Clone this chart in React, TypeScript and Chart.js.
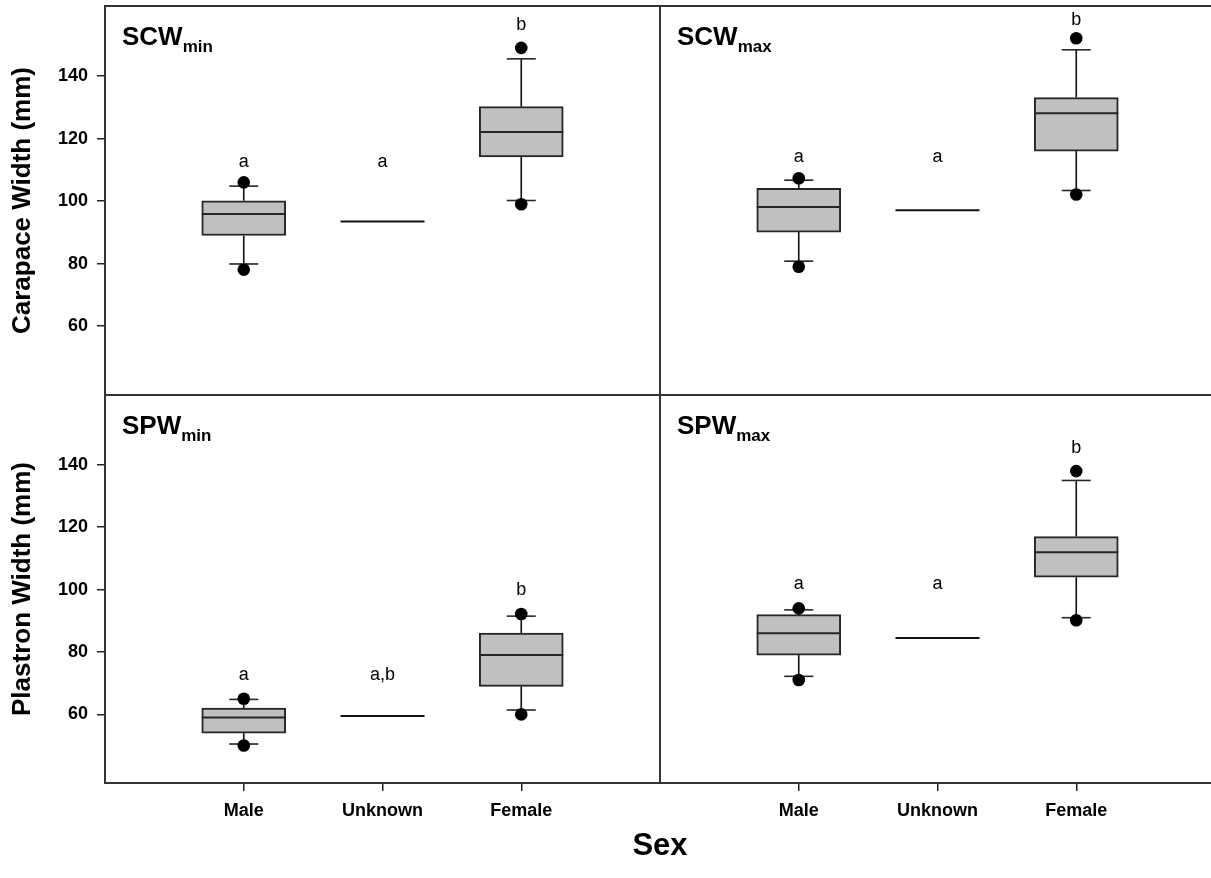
import React, { useEffect, useRef } from 'react';
import { Chart, registerables } from 'chart.js';

Chart.register(...registerables);

const FONT = '"Liberation Sans", Arial, Helvetica, sans-serif';

// ---- Data ----
const categories = ['Male', 'Unknown', 'Female'];
const categoryPositions = [1, 2, 3];
const boxPositions = [1, 3]; // Male, Female have boxes; Unknown is a single value
const unknownPosition = 2;
const yTickValues = [60, 80, 100, 120, 140];
const yMin = 38;
const yMax = 162.4;

// SCW min (Male, Female)
const scwMinQ1 = [89.0, 114.1];
const scwMinMedian = [95.9, 122.1];
const scwMinQ3 = [100.1, 130.2];
const scwMinWhiskerLow = [79.9, 100.2];
const scwMinWhiskerHigh = [104.8, 145.5];
const scwMinOutLow = [78.1, 99.0];
const scwMinOutHigh = [106.0, 149.0];
const scwMinUnknown = 93.5;
const scwMinLetters = ['a', 'a', 'b'];
const scwMinLetterY = [112.6, 112.6, 156.2];

// SCW max
const scwMaxQ1 = [90.1, 116.0];
const scwMaxMedian = [98.1, 128.1];
const scwMaxQ3 = [104.1, 133.1];
const scwMaxWhiskerLow = [80.8, 103.4];
const scwMaxWhiskerHigh = [106.7, 148.4];
const scwMaxOutLow = [79.0, 102.1];
const scwMaxOutHigh = [107.3, 152.1];
const scwMaxUnknown = 97.1;
const scwMaxLetters = ['a', 'a', 'b'];
const scwMaxLetterY = [114.2, 114.2, 157.9];

// SPW min
const spwMinQ1 = [54.0, 69.0];
const spwMinMedian = [59.0, 79.0];
const spwMinQ3 = [62.0, 86.1];
const spwMinWhiskerLow = [50.5, 61.4];
const spwMinWhiskerHigh = [64.8, 91.5];
const spwMinOutLow = [50.0, 60.0];
const spwMinOutHigh = [65.0, 92.2];
const spwMinUnknown = 59.5;
const spwMinLetters = ['a', 'a,b', 'b'];
const spwMinLetterY = [72.5, 72.5, 99.9];

// SPW max
const spwMaxQ1 = [79.0, 104.0];
const spwMaxMedian = [86.0, 112.0];
const spwMaxQ3 = [92.0, 117.0];
const spwMaxWhiskerLow = [72.2, 91.0];
const spwMaxWhiskerHigh = [93.5, 135.0];
const spwMaxOutLow = [71.0, 90.2];
const spwMaxOutHigh = [94.0, 138.0];
const spwMaxUnknown = 84.5;
const spwMaxLetters = ['a', 'a', 'b'];
const spwMaxLetterY = [101.9, 101.9, 145.4];

type Panel = {
  q1: number[]; median: number[]; q3: number[];
  wLo: number[]; wHi: number[]; oLo: number[]; oHi: number[];
  unknown: number; letters: string[]; letterY: number[];
  main: string; sub: string;
  showX: boolean; showY: boolean; yTitle: string; sexTitle: boolean;
  padding: { left: number; right: number; top: number; bottom: number };
};

const CW = 1230;
const CH = 878;

const panels: Panel[] = [
  {
    q1: scwMinQ1, median: scwMinMedian, q3: scwMinQ3, wLo: scwMinWhiskerLow, wHi: scwMinWhiskerHigh,
    oLo: scwMinOutLow, oHi: scwMinOutHigh, unknown: scwMinUnknown, letters: scwMinLetters, letterY: scwMinLetterY,
    main: 'SCW', sub: 'min', showX: false, showY: true, yTitle: 'Carapace Width (mm)', sexTitle: false,
    padding: { left: 0, right: CW - 660, top: 6, bottom: CH - 395 },
  },
  {
    q1: scwMaxQ1, median: scwMaxMedian, q3: scwMaxQ3, wLo: scwMaxWhiskerLow, wHi: scwMaxWhiskerHigh,
    oLo: scwMaxOutLow, oHi: scwMaxOutHigh, unknown: scwMaxUnknown, letters: scwMaxLetters, letterY: scwMaxLetterY,
    main: 'SCW', sub: 'max', showX: false, showY: false, yTitle: '', sexTitle: false,
    padding: { left: 660, right: CW - 1215, top: 6, bottom: CH - 395 },
  },
  {
    q1: spwMinQ1, median: spwMinMedian, q3: spwMinQ3, wLo: spwMinWhiskerLow, wHi: spwMinWhiskerHigh,
    oLo: spwMinOutLow, oHi: spwMinOutHigh, unknown: spwMinUnknown, letters: spwMinLetters, letterY: spwMinLetterY,
    main: 'SPW', sub: 'min', showX: true, showY: true, yTitle: 'Plastron Width (mm)', sexTitle: true,
    padding: { left: 0, right: CW - 660, top: 395, bottom: CH - 783 - 60 },
  },
  {
    q1: spwMaxQ1, median: spwMaxMedian, q3: spwMaxQ3, wLo: spwMaxWhiskerLow, wHi: spwMaxWhiskerHigh,
    oLo: spwMaxOutLow, oHi: spwMaxOutHigh, unknown: spwMaxUnknown, letters: spwMaxLetters, letterY: spwMaxLetterY,
    main: 'SPW', sub: 'max', showX: true, showY: false, yTitle: '', sexTitle: false,
    padding: { left: 660, right: CW - 1215, top: 395, bottom: CH - 783 - 60 },
  },
];

const LINE = '#262626';

const framePlugin = {
  id: 'frame',
  afterDraw(chart: any) {
    const { ctx, chartArea: a } = chart;
    ctx.save();
    ctx.strokeStyle = '#333';
    ctx.lineWidth = 2;
    ctx.strokeRect(a.left, a.top, a.right - a.left, a.bottom - a.top);
    ctx.restore();
  },
};

const annotPlugin = {
  id: 'annot',
  afterDraw(chart: any, _args: any, opts: any) {
    const { ctx, chartArea: a, scales } = chart;
    ctx.save();
    ctx.fillStyle = '#000';
    // panel title
    ctx.textAlign = 'left';
    ctx.textBaseline = 'alphabetic';
    ctx.font = `bold 26px ${FONT}`;
    const tx = a.left + 17;
    const ty = a.top + 39;
    ctx.fillText(opts.main, tx, ty);
    const w = ctx.measureText(opts.main).width;
    ctx.font = `bold 17px ${FONT}`;
    ctx.fillText(opts.sub, tx + w, ty + 7);
    // significance letters
    ctx.font = `18px ${FONT}`;
    ctx.textAlign = 'center';
    ctx.textBaseline = 'middle';
    opts.letters.forEach((t: string, i: number) => {
      ctx.fillText(t, scales.x.getPixelForValue(categoryPositions[i]), scales.y.getPixelForValue(opts.letterY[i]));
    });
    if (opts.sexTitle) {
      ctx.font = `bold 31px ${FONT}`;
      ctx.fillText('Sex', a.right, a.bottom + 63);
    }
    ctx.restore();
  },
};

function buildConfig(p: Panel): any {
  const whiskerData: any[] = [];
  boxPositions.forEach((x, i) => {
    whiskerData.push({ x, y: p.q3[i] }, { x, y: p.wHi[i] }, { x, y: NaN });
    whiskerData.push({ x, y: p.q1[i] }, { x, y: p.wLo[i] }, { x, y: NaN });
  });
  const capData: any[] = [];
  boxPositions.forEach((x, i) => {
    capData.push({ x, y: p.wHi[i] }, { x, y: p.wLo[i] });
  });
  const outData: any[] = [];
  boxPositions.forEach((x, i) => {
    outData.push({ x, y: p.oHi[i] }, { x, y: p.oLo[i] });
  });

  const tickFont = { family: FONT, size: 18, weight: 'bold' as const };

  return {
    type: 'bar',
    data: {
      datasets: [
        {
          type: 'scatter', data: outData, pointStyle: 'circle', pointRadius: 6.3,
          backgroundColor: '#000', borderColor: '#000', borderWidth: 0,
        },
        {
          type: 'scatter', data: capData, pointStyle: 'line', pointRadius: 14.5,
          borderColor: LINE, borderWidth: 1.6,
        },
        {
          type: 'scatter', data: boxPositions.map((x, i) => ({ x, y: p.median[i] })), pointStyle: 'line', pointRadius: 42,
          borderColor: LINE, borderWidth: 2,
        },
        {
          type: 'scatter', data: [{ x: unknownPosition, y: p.unknown }], pointStyle: 'line', pointRadius: 42,
          borderColor: '#111', borderWidth: 2,
        },
        {
          type: 'bar', data: boxPositions.map((x, i) => ({ x, y: [p.q1[i], p.q3[i]] })),
          backgroundColor: '#c0c0c0', borderColor: LINE, borderWidth: 2, borderSkipped: false,
          barThickness: 84, grouped: false,
        },
        {
          type: 'line', data: whiskerData, showLine: true, spanGaps: false, pointRadius: 0,
          borderColor: '#111', borderWidth: 1.6, fill: false,
        },
      ],
    },
    options: {
      animation: false,
      responsive: false,
      events: [],
      layout: { padding: p.padding, autoPadding: false },
      plugins: {
        legend: { display: false },
        tooltip: { enabled: false },
        annot: { main: p.main, sub: p.sub, letters: p.letters, letterY: p.letterY, sexTitle: p.sexTitle },
      },
      scales: {
        x: {
          type: 'linear', min: 0, max: 4, display: p.showX, offset: false,
          afterBuildTicks: (s: any) => { s.ticks = categoryPositions.map((v) => ({ value: v })); },
          afterFit: (s: any) => {
            if (p.showX) s.height = 60;
            s.paddingLeft = 0; s.paddingRight = 0;
          },
          ticks: {
            callback: (v: any) => categories[Math.round(Number(v)) - 1] ?? '',
            font: tickFont, color: '#000', padding: 9, autoSkip: false, maxRotation: 0,
          },
          grid: { offset: false, drawOnChartArea: false, drawTicks: true, tickLength: 8, color: '#222', lineWidth: 1.5 },
          border: { display: false },
        },
        y: {
          type: 'linear', min: yMin, max: yMax, display: p.showY,
          afterBuildTicks: (s: any) => { s.ticks = yTickValues.map((v) => ({ value: v })); },
          afterFit: (s: any) => {
            if (p.showY) s.width = 105;
            s.paddingTop = 0; s.paddingBottom = 0;
          },
          ticks: { font: tickFont, color: '#000', padding: 9, callback: (v: any) => String(v) },
          grid: { drawOnChartArea: false, drawTicks: true, tickLength: 8, color: '#222', lineWidth: 1.5 },
          border: { display: false },
          title: {
            display: p.showY, text: p.yTitle, color: '#000',
            font: { family: FONT, size: 26, weight: 'bold' }, padding: { top: 7, bottom: 0 },
          },
        },
      },
    },
    plugins: [framePlugin, annotPlugin],
  };
}

function PanelCanvas({ panel }: { panel: Panel }) {
  const ref = useRef<HTMLCanvasElement | null>(null);
  useEffect(() => {
    if (!ref.current) return;
    const chart = new Chart(ref.current, buildConfig(panel));
    return () => chart.destroy();
  }, [panel]);
  return (
    <canvas
      ref={ref}
      width={CW}
      height={CH}
      style={{ position: 'absolute', left: 0, top: 0, width: CW, height: CH, display: 'block' }}
    />
  );
}

export default function App() {
  Chart.defaults.font.family = FONT;
  return (
    <div
      style={{
        position: 'fixed', left: 0, top: 0, width: 1211, height: 878,
        overflow: 'hidden', background: '#fff',
      }}
    >
      {panels.map((p, i) => (
        <PanelCanvas key={i} panel={p} />
      ))}
    </div>
  );
}
